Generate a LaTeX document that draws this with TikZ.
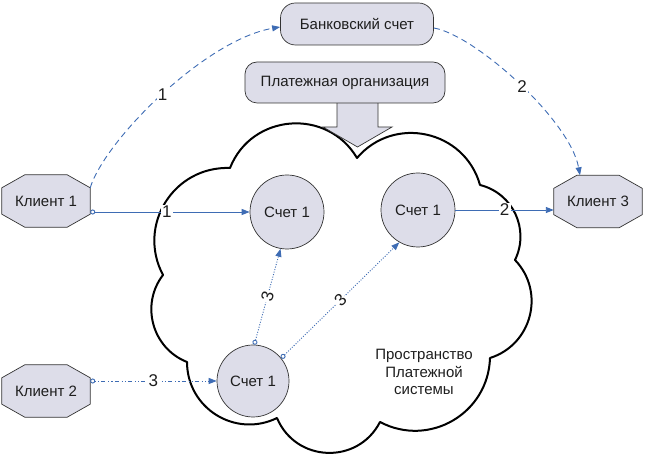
\documentclass[tikz,border=0pt]{standalone}
\usepackage{fontspec}
\setmainfont{Liberation Sans}
\usetikzlibrary{arrows.meta,backgrounds}
\definecolor{shfill}{RGB}{221,221,233}
\definecolor{lnblue}{RGB}{62,108,180}
\definecolor{txt}{RGB}{30,30,30}
\begin{document}
\begin{tikzpicture}[x=1pt,y=1pt,
  every node/.style={font=\fontsize{15}{17.5}\selectfont, text=txt},
  boxshape/.style={draw=black!80, line width=0.7pt, fill=shfill, rounded corners=#1, inner sep=0pt},
  acct/.style={circle, draw=black!80, line width=0.7pt, fill=shfill, minimum size=74pt, inner sep=0pt},
  client/.style={rectangle, minimum width=88pt, minimum height=52pt, inner sep=0pt},
  octa/.style={draw=black!80, line width=0.7pt, fill=shfill},
  cloudline/.style={draw=black, line width=2pt, fill=white, line join=round},
  conn/.style={draw=lnblue, line width=0.9pt, -{Triangle[length=8pt,width=6pt]}},
  startmark/.style={{Circle[open,length=5pt,width=5pt]}-{Triangle[length=8pt,width=6pt]}},
  lbl/.style={fill=white, inner sep=1.2pt, font=\fontsize{17}{19}\selectfont},
  dashline/.style={dash pattern=on 6pt off 4pt},
  dashdotline/.style={dash pattern=on 1.2pt off 2pt on 1.2pt off 2pt on 4pt off 3pt},
  dotline/.style={dash pattern=on 1pt off 1.6pt}
]
\useasboundingbox (0,0) rectangle (647,457);

% cloud
\draw[cloudline] (357,299)
  to[out=62,in=118,relative,looseness=1.16] (480,272)
  to[out=51,in=129,relative,looseness=1.05] (515,197)
  to[out=58,in=122,relative,looseness=1.12] (490,99)
  to[out=58,in=122,relative,looseness=1.12] (380,35)
  to[out=65,in=115,relative,looseness=1.2] (277,39)
  to[out=58,in=122,relative,looseness=1.12] (187,95)
  to[out=53,in=127,relative,looseness=1.06] (163,182)
  to[out=60,in=120,relative,looseness=1.14] (230,289)
  to[out=64,in=116,relative,looseness=1.18] (357,299) -- cycle;

\node[align=center] (space) at (424,85) {Пространство\\Платежной\\системы};

% block arrow
\draw[octa] (337,356) -- (337,330) -- (323,330) -- (357.5,310) -- (392,330) -- (378,330) -- (378,356);

% boxes
\node[boxshape=15pt, minimum width=153pt, minimum height=42pt] (bank) at (357,433) {Банковский счет};
\node[boxshape=12pt, minimum width=200pt, minimum height=41pt] (org) at (345,374.5) {Платежная организация};

% accounts
\node[acct] (A) at (287,245) {Счет 1};
\node[acct] (B) at (418,247) {Счет 1};
\node[acct, minimum size=72pt] (C) at (253,76) {Счет 1};

% clients
\node[client] (c1) at (46,256) {Клиент 1};
\node[client] (c3) at (598,255.5) {Клиент 3};
\node[client] (c2) at (46,66) {Клиент 2};
\begin{pgfonlayer}{background}
\foreach \n in {c1,c2,c3}{
  \draw[octa] ([xshift=23pt]\n.north west) -- ([xshift=-23pt]\n.north east)
    -- ([yshift=-13pt]\n.north east) -- ([yshift=13pt]\n.south east)
    -- ([xshift=-23pt]\n.south east) -- ([xshift=23pt]\n.south west)
    -- ([yshift=13pt]\n.south west) -- ([yshift=-13pt]\n.north west) -- cycle;
}
\end{pgfonlayer}

% connectors
\draw[conn, startmark] (c1.east |- A) -- node[lbl, pos=0.48]{1} (A);
\draw[conn] (B) -- node[lbl]{2} (c3.west |- B);
\draw[conn, dashline] ([yshift=-13pt]c1.north east) .. controls (105,317) and (205,417) .. ([yshift=-3pt]bank.west) node[lbl,pos=0.5]{1};
\draw[conn, dashline] ([yshift=-4pt]bank.east) .. controls (475,422) and (570,337) .. ([xshift=-18pt]c3.north) node[lbl,pos=0.52]{2};
\draw[conn, startmark, dashdotline] (c2.east |- C) -- node[lbl]{3} (C);
\draw[conn, startmark, dotline] (C.88) -- node[lbl, sloped]{3} (A.260);
\draw[conn, startmark, dotline] (C.39) -- node[lbl, sloped]{3} (B.240);
\end{tikzpicture}
\end{document}
